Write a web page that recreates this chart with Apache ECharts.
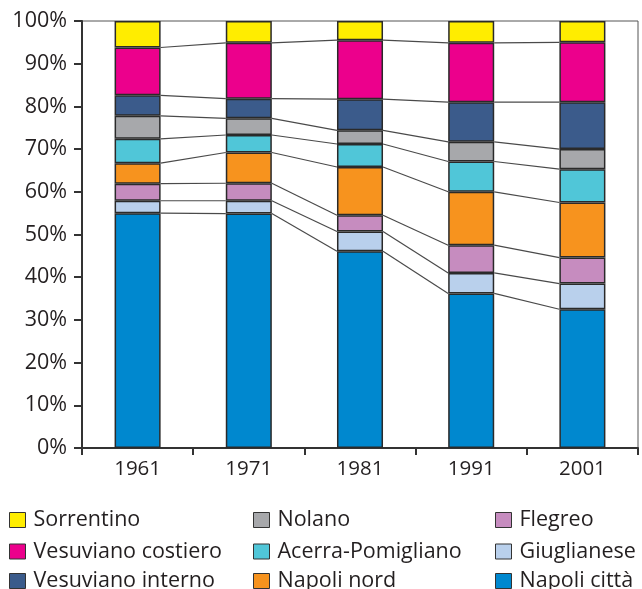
<!DOCTYPE html>
<html>
<head>
<meta charset="utf-8">
<script src="https://cdn.jsdelivr.net/npm/echarts@6/dist/echarts.min.js"></script>
<style>
  html, body { margin: 0; padding: 0; background: #fff; }
  #chart { width: 642px; height: 589px; }
</style>
</head>
<body>
<div id="chart"></div>
<script>
// Census years
const years = ['1961', '1971', '1981', '1991', '2001'];

// Share of population by area (%), stacked from the bottom up
const napoliCitta       = [55.0, 54.9, 46.1, 36.2, 32.5];
const giuglianese       = [2.9, 3.0, 4.6, 4.8, 6.0];
const flegreo           = [4.0, 4.1, 3.8, 6.5, 6.1];
const napoliNord        = [4.8, 7.2, 11.3, 12.5, 12.9];
const acerraPomigliano  = [5.7, 4.1, 5.4, 7.1, 7.8];
const nolano            = [5.4, 3.9, 3.2, 4.6, 4.7];
const vesuvianoInterno  = [4.8, 4.6, 7.3, 9.3, 11.0];
const vesuvianoCostiero = [11.2, 13.1, 13.8, 13.9, 14.0];
const sorrentino        = [6.2, 5.1, 4.5, 5.1, 5.0];

const areaNames = ['Napoli città', 'Giuglianese', 'Flegreo', 'Napoli nord',
  'Acerra-Pomigliano', 'Nolano', 'Vesuviano interno', 'Vesuviano costiero', 'Sorrentino'];
const areaValues = [napoliCitta, giuglianese, flegreo, napoliNord,
  acerraPomigliano, nolano, vesuvianoInterno, vesuvianoCostiero, sorrentino];
const areaColors = ['#0088cf', '#b9d0ec', '#c68cbf', '#f7931e',
  '#50c6d8', '#a7a8ab', '#3b5b8b', '#ec008c', '#ffed00'];

// Legend grid: three columns of three entries
const legendColumns = [
  ['Sorrentino', 'Vesuviano costiero', 'Vesuviano interno'],
  ['Nolano', 'Acerra-Pomigliano', 'Napoli nord'],
  ['Flegreo', 'Giuglianese', 'Napoli città']
];
const legendLeft = [9, 253, 495];
const legendTop = [509, 540.5, 570];

const BAR_RATIO = 0.414;
const FONT = '"Open Sans", "Noto Sans", sans-serif';
const INK = '#231f20';

// Running totals: top edge of each segment per year (internal boundaries only)
const boundaries = [];
let running = years.map(() => 0);
areaValues.slice(0, -1).forEach(vals => {
  running = running.map((r, i) => Math.round((r + vals[i]) * 10) / 10);
  boundaries.push(running.slice());
});

// One connector per boundary per adjacent pair of years
const connectorData = [];
boundaries.forEach((b, k) => {
  for (let i = 0; i < years.length - 1; i++) connectorData.push([i, k]);
});

const barSeries = areaNames.map((name, idx) => ({
  name: name,
  type: 'bar',
  stack: 'total',
  barWidth: (BAR_RATIO * 100) + '%',
  data: areaValues[idx],
  itemStyle: { color: areaColors[idx], borderColor: '#2a2a2a', borderWidth: 1.5 },
  emphasis: { disabled: true },
  silent: true
}));

const connectorSeries = {
  type: 'custom',
  silent: true,
  z: 3,
  data: connectorData,
  renderItem: function (params, api) {
    const i = api.value(0);
    const k = api.value(1);
    const p1 = api.coord([i, boundaries[k][i]]);
    const p2 = api.coord([i + 1, boundaries[k][i + 1]]);
    const half = api.size([1, 0])[0] * BAR_RATIO / 2;
    return {
      type: 'line',
      shape: { x1: p1[0] + half, y1: p1[1], x2: p2[0] - half, y2: p2[1] },
      style: { stroke: '#4a4a4a', lineWidth: 1.2 }
    };
  }
};

// One single-entry legend per cell so the grid stays fixed
const legends = [];
legendColumns.forEach((col, c) => {
  col.forEach((name, r) => {
    legends.push({
      data: [name],
      left: legendLeft[c],
      top: legendTop[r],
      padding: 0,
      itemWidth: 16,
      itemHeight: 15,
      icon: 'rect',
      selectedMode: false,
      itemStyle: { borderColor: '#333', borderWidth: 1 },
      textStyle: {
        fontFamily: FONT, fontSize: 21.5, lineHeight: 16,
        color: INK, padding: [0, 0, 0, 3]
      }
    });
  });
});

const chart = echarts.init(document.getElementById('chart'), null, { renderer: 'canvas' });
chart.setOption({
  animation: false,
  textStyle: { fontFamily: FONT },
  grid: {
    left: 82, right: 4, top: 21, bottom: 141,
    show: true, borderColor: '#555', borderWidth: 1
  },
  legend: legends,
  xAxis: {
    type: 'category',
    data: years,
    axisLine: { lineStyle: { color: '#333', width: 2 } },
    axisTick: { show: true, length: 7, lineStyle: { color: '#333', width: 2 } },
    axisLabel: { fontFamily: FONT, fontSize: 20.5, color: INK, margin: 11 }
  },
  yAxis: {
    type: 'value',
    min: 0, max: 100, interval: 10,
    splitLine: { show: false },
    axisLine: { show: true, lineStyle: { color: '#333', width: 2 } },
    axisTick: { show: true, length: 8, lineStyle: { color: '#333', width: 2 } },
    axisLabel: {
      fontFamily: FONT, fontSize: 21.5, color: INK, margin: 15,
      padding: [8, 0, 0, 0], formatter: '{value}%'
    }
  },
  series: barSeries.concat([connectorSeries])
});
</script>
</body>
</html>
